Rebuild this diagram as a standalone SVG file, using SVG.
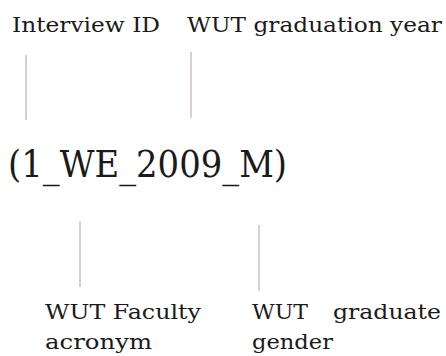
<svg xmlns="http://www.w3.org/2000/svg" width="446" height="356" viewBox="0 0 446 356">
<style>
.t{font-family:"DejaVu Serif","Liberation Serif",serif;font-size:21px;fill:#1a1a1a}
.big{font-family:"DejaVu Serif","Liberation Serif",serif;font-size:37px;fill:#1a1a1a}
.c{stroke:#c6b4b8;stroke-width:1.3;fill:none}
</style>
<rect width="446" height="356" fill="#ffffff"/>
<g id="connectors">
<line class="c" x1="26" y1="55" x2="26" y2="120"/>
<line class="c" x1="191" y1="52" x2="191" y2="118"/>
<line class="c" x1="80" y1="221" x2="80" y2="287"/>
<line class="c" x1="259" y1="225" x2="259" y2="291"/>
</g>
<g id="interview-id"><text class="t" x="12" y="32" textLength="148" lengthAdjust="spacingAndGlyphs">Interview ID</text></g>
<g id="graduation-year"><text class="t" x="187" y="32" textLength="255" lengthAdjust="spacingAndGlyphs">WUT graduation year</text></g>
<g id="code"><text class="big" x="8" y="177" textLength="279" lengthAdjust="spacingAndGlyphs">(1_WE_2009_M)</text></g>
<g id="faculty"><text class="t" x="45" y="319" textLength="156" lengthAdjust="spacingAndGlyphs">WUT Faculty</text><text class="t" x="45" y="349" textLength="107" lengthAdjust="spacingAndGlyphs">acronym</text></g>
<g id="gender"><text class="t" y="319"><tspan x="252" textLength="56" lengthAdjust="spacingAndGlyphs">WUT</tspan> <tspan x="333" textLength="108" lengthAdjust="spacingAndGlyphs">graduate</tspan></text><text class="t" x="252" y="349" textLength="81" lengthAdjust="spacingAndGlyphs">gender</text></g>
</svg>
